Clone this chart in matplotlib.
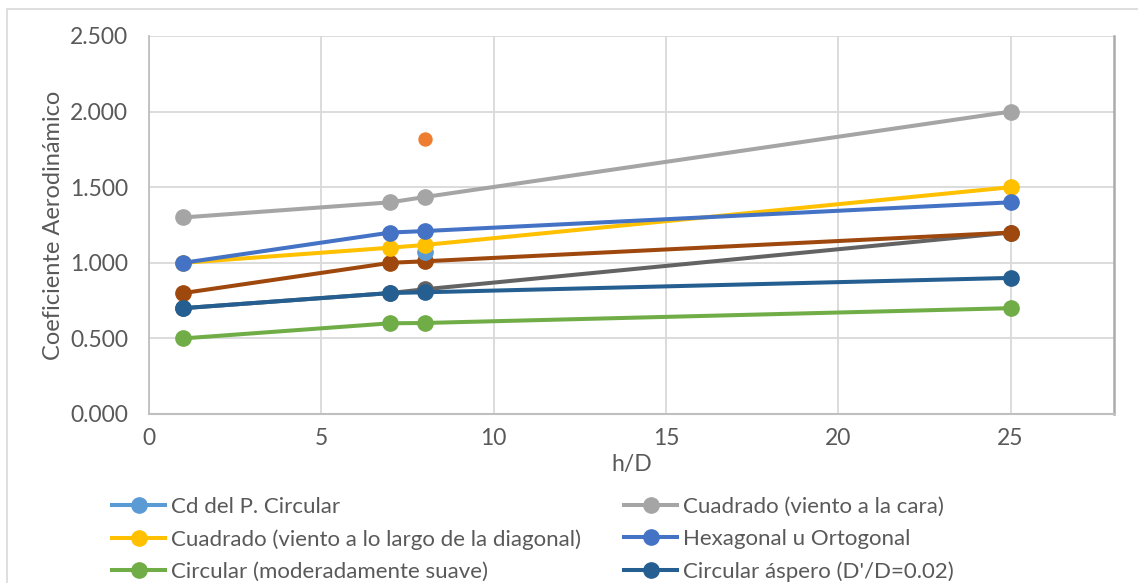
import matplotlib
matplotlib.use("Agg")
import matplotlib.pyplot as plt
from matplotlib.patches import Rectangle
from matplotlib.ticker import FuncFormatter, MultipleLocator

plt.rcParams['font.family'] = ['Lato', 'DejaVu Sans']

# ---- data ----
hD = [1, 7, 8, 25]
cd_circular_x = [8]
cd_circular_y = [1.07]
extra_x = [8]
extra_y = [1.82]
cuad_cara = [1.3, 1.4, 1.435, 2.0]
cuad_diag = [1.0, 1.1, 1.118, 1.5]
hexagonal = [1.0, 1.2, 1.21, 1.4]
brown_vals = [0.8, 1.0, 1.01, 1.2]
dgray_vals = [0.7, 0.8, 0.825, 1.2]
circ_aspero = [0.7, 0.8, 0.805, 0.9]
circ_suave = [0.5, 0.6, 0.602, 0.7]

# ---- figure ----
fig = plt.figure(figsize=(11.38, 5.83), dpi=100)
ax = fig.add_axes([149/1138, 1-414/583, (1114-149)/1138, (414-36)/583])

# light frame round the whole chart
fig.patches.append(Rectangle((7/1138, -0.05), 1.2, 1-9/583+0.05, transform=fig.transFigure,
                             fill=False, ec='#D9D9D9', lw=1.2))

lw = 2.9
ms = 11
txt = '#595959'

ax.plot(hD, dgray_vals, color='#636363', lw=lw, marker='o', ms=ms, zorder=3)
ax.plot(hD, brown_vals, color='#9E480E', lw=lw, marker='o', ms=ms, zorder=3)
ax.plot(hD, circ_aspero, color='#255E91', lw=lw, marker='o', ms=ms, zorder=3, label='Circular áspero (D\'/D=0.02)')
ax.plot(hD, circ_suave, color='#70AD47', lw=lw, marker='o', ms=ms, zorder=3, label='Circular (moderadamente suave)')
ax.plot(cd_circular_x, cd_circular_y, color='#5B9BD5', lw=lw, marker='o', ms=ms, zorder=3, label='Cd del P. Circular')
ax.plot(hD, cuad_diag, color='#FFC000', lw=lw, marker='o', ms=ms, zorder=3, label='Cuadrado (viento a lo largo de la diagonal)')
ax.plot(hD, hexagonal, color='#4472C4', lw=lw, marker='o', ms=ms, zorder=3, label='Hexagonal u Ortogonal')
ax.plot(hD, cuad_cara, color='#A5A5A5', lw=lw, marker='o', ms=ms, zorder=3, label='Cuadrado (viento a la cara)')
ax.plot(extra_x, extra_y, color='#ED7D31', lw=0, marker='o', ms=ms*0.85, zorder=3)

# ---- axes ----
ax.set_xlim(0, 28)
ax.set_ylim(0, 2.5)
ax.set_xticks([0, 5, 10, 15, 20, 25])
ax.yaxis.set_major_locator(MultipleLocator(0.5))
ax.yaxis.set_major_formatter(FuncFormatter(lambda v, p: f'{v:.3f}'))
ax.grid(True, color='#D9D9D9', lw=1.3, zorder=0)
ax.tick_params(length=0, labelsize=16.5, colors=txt)
ax.tick_params(axis='y', pad=15)
ax.tick_params(axis='x', pad=10)
ax.spines['top'].set_visible(False)
ax.spines['left'].set_color('#BFBFBF')
ax.spines['bottom'].set_color('#BFBFBF')
ax.spines['left'].set_linewidth(1.3)
ax.spines['bottom'].set_linewidth(1.5)
ax.spines['right'].set_color('#ABABAB')
ax.spines['right'].set_linewidth(1.8)

ax.set_xlabel('h/D', fontsize=16.5, color=txt, labelpad=4)
ax.set_ylabel('Coeficiente Aerodinámico', fontsize=17, color=txt, labelpad=4)

# legend: two separate columns
h, l = ax.get_legend_handles_labels()
col1 = ['Cd del P. Circular', 'Cuadrado (viento a lo largo de la diagonal)',
        'Circular (moderadamente suave)']
col2 = ['Cuadrado (viento a la cara)', 'Hexagonal u Ortogonal',
        'Circular áspero (D\'/D=0.02)']
leg_kw = dict(loc='upper left', frameon=False, fontsize=16, handlelength=2.4,
              labelspacing=0.55, handletextpad=0.25, labelcolor=txt,
              borderpad=0, borderaxespad=0)
for names, x0 in [(col1, 112), (col2, 624)]:
    hs = [h[l.index(n)] for n in names]
    fig.legend(hs, names, bbox_to_anchor=(x0/1138, 1-497/583), **leg_kw)

fig.savefig('out.png', dpi=100)
